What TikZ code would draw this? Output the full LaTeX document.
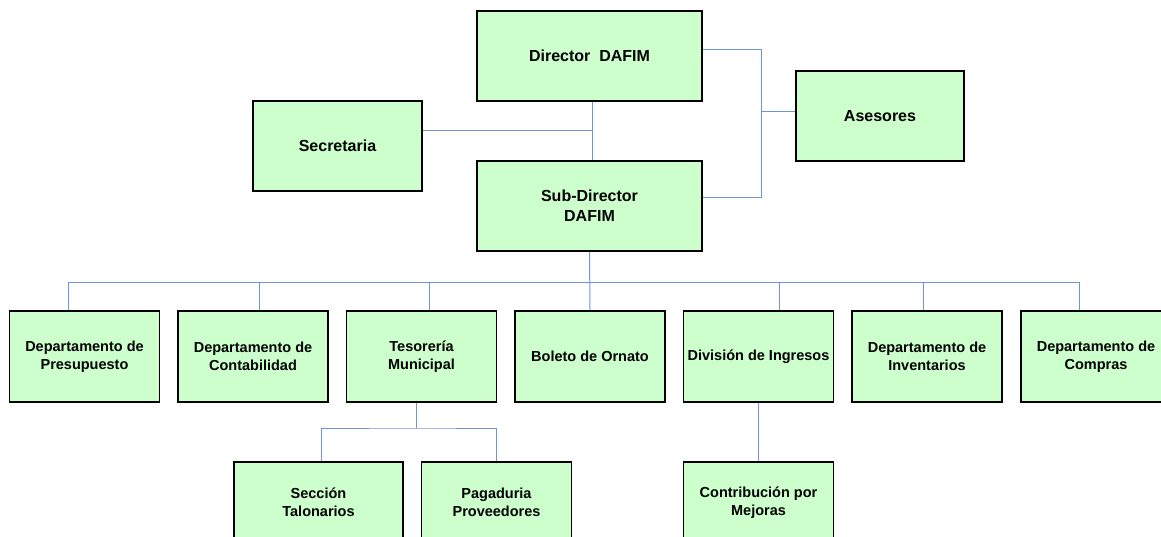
\documentclass[tikz,border=0pt]{standalone}
\usepackage{fontspec}
\setmainfont{Liberation Sans}
\definecolor{boxgreen}{RGB}{204,255,204}
\definecolor{linkblue}{RGB}{112,146,220}
\begin{document}
\begin{tikzpicture}[x=1pt,y=-1pt,
  box/.style={draw, line width=1.6pt, fill=boxgreen, inner sep=0pt, align=center,
    font=\bfseries\fontsize{14.5}{18}\selectfont, minimum width=150pt, minimum height=91pt},
  topbox/.style={box, minimum height=90pt, font=\bfseries\fontsize{16}{20}\selectfont},
  lowbox/.style={box, minimum height=81pt},
  link/.style={draw=linkblue, line width=1pt}]
  \clip (0,0) rectangle (1161,537);
  \node[topbox, minimum width=225pt] (dir) at (589.5,56) {Director~~DAFIM};
  \node[topbox, minimum width=225pt] (sub) at (589.5,206) {Sub-Director\\DAFIM};
  \node[topbox, minimum width=169pt] (sec) at (337.5,146) {Secretaria};
  \node[topbox, minimum width=168pt] (ase) at (880,116) {Asesores};
  \node[box] (pres) at (84.5,356.5) {Departamento de\\Presupuesto};
  \node[box] (cont) at (253,356.5) {Departamento de\\Contabilidad};
  \node[box] (teso) at (421.5,356.5) {Tesorería\\Municipal};
  \node[box] (bol) at (590,356.5) {Boleto de Ornato};
  \node[box] (div) at (758.5,356.5) {División de Ingresos};
  \node[box] (inv) at (927,356.5) {Departamento de\\Inventarios};
  \node[box] (comp) at (1096,356.5) {Departamento de\\Compras};
  \node[lowbox, minimum width=169pt] (secc) at (318.5,502.5) {Sección\\Talonarios};
  \node[lowbox] (pag) at (496.5,502.5) {Pagaduria\\Proveedores};
  \node[lowbox] (contr) at (758.5,502.5) {Contribución por\\Mejoras};
  \coordinate (secj) at (592,131);
  \coordinate (asej) at (761,112);
  \coordinate (bus) at (589,282);
  \coordinate (tbus) at (416,428);
  \draw[link] ([xshift=2.5pt]dir.south) -- ([xshift=2.5pt]sub.north);
  \draw[link] ([yshift=15pt]sec.east) -- (secj);
  \draw[link] ([yshift=6pt]dir.east) -| (asej) |- ([yshift=8pt]sub.east);
  \draw[link] (asej) -- ([yshift=4pt]ase.west);
  \draw[link] (sub.south) -- (bol.north);
  \draw[link] ([xshift=-16.5pt]pres.north |- bus) -- ([xshift=-17pt]comp.north |- bus);
  \foreach \n/\d in {pres/-16.5,cont/6,teso/7.5,div/20.5,inv/-4,comp/-17}
    \draw[link] ([xshift=\d pt]\n.north |- bus) -- ([xshift=\d pt]\n.north);
  \draw[link] ([xshift=-5.5pt]teso.south) -- (tbus);
  \draw[link] ([xshift=2.5pt]secc.north) |- (tbus) -| (pag.north);
  \draw[link] (div.south) -- (contr.north);
\end{tikzpicture}
\end{document}
